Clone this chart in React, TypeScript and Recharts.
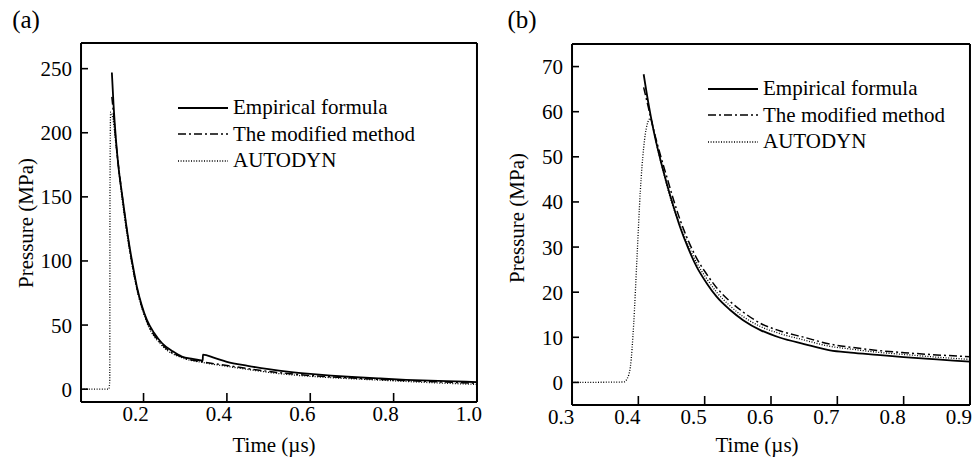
import React from "react";
import { LineChart, Line, XAxis, YAxis, Legend } from "recharts";

const FONT = '"Times New Roman", "Liberation Serif", Tinos, "DejaVu Serif", serif';

// ---- panel (a) ----
const aEmpT = [0.124, 0.128, 0.134, 0.14, 0.148, 0.156, 0.164, 0.174, 0.184, 0.196, 0.208, 0.225, 0.244, 0.27, 0.292, 0.318, 0.342, 0.3425, 0.37, 0.4, 0.45, 0.5, 0.55, 0.6, 0.65, 0.7, 0.768, 0.83, 0.888, 0.95, 1.0];
const aEmpP = [247, 222, 194, 173, 153, 134, 116, 97, 80, 65, 54, 44, 36, 29.5, 25.4, 23.6, 22.3, 26.9, 24.4, 21.3, 18.2, 15.6, 13.5, 11.9, 10.6, 9.5, 8.3, 7.3, 6.6, 6, 5.5];

const aModT = [0.124, 0.128, 0.134, 0.148, 0.164, 0.184, 0.208, 0.244, 0.292, 0.342, 0.4, 0.45, 0.528, 0.6, 0.7, 0.8, 0.9, 1.0];
const aModP = [228, 215, 192, 153, 115, 79, 53, 35, 25, 21.3, 18.5, 16, 12.8, 10.6, 8.7, 7.1, 5.8, 4.6];

const aAutT = [0.05, 0.117, 0.119, 0.1195, 0.121, 0.126, 0.134, 0.148, 0.164, 0.184, 0.208, 0.244, 0.292, 0.342, 0.4, 0.45, 0.528, 0.6, 0.7, 0.768, 0.83, 0.888, 0.95, 1.0];
const aAutP = [0, 0, 8, 150, 216, 212, 190, 150, 113, 78, 52, 34, 24.5, 20.8, 17.8, 15.4, 12, 10, 8.1, 7, 6, 5.1, 4.3, 3.7];

// ---- panel (b) ----
const bEmpT = [0.408, 0.415, 0.423, 0.433, 0.443, 0.453, 0.463, 0.475, 0.488, 0.503, 0.518, 0.538, 0.558, 0.584, 0.614, 0.65, 0.689, 0.72, 0.76, 0.8, 0.85, 0.9];
const bEmpP = [68.3, 62, 55.8, 49.5, 44, 39, 34.4, 29.8, 25.6, 22, 19, 16.1, 13.8, 11.6, 9.9, 8.5, 7.1, 6.6, 6.1, 5.6, 5.1, 4.6];

const bModT = [0.408, 0.415, 0.423, 0.433, 0.443, 0.453, 0.463, 0.475, 0.488, 0.503, 0.518, 0.538, 0.558, 0.584, 0.614, 0.65, 0.689, 0.72, 0.76, 0.8, 0.85, 0.9];
const bModP = [65.4, 61, 56, 50.5, 45.5, 40.5, 36, 31.5, 27.5, 24, 21, 18, 15.6, 13.1, 11.4, 10, 8.5, 7.8, 7.1, 6.6, 6.1, 5.7];

const bAutT = [0.3, 0.378, 0.383, 0.388, 0.393, 0.398, 0.403, 0.408, 0.413, 0.418, 0.423, 0.428, 0.438, 0.45, 0.463, 0.475, 0.488, 0.503, 0.518, 0.538, 0.558, 0.584, 0.614, 0.65, 0.689, 0.72, 0.76, 0.8, 0.85, 0.9];
const bAutP = [0, 0.1, 0.8, 3.5, 13, 27.8, 42.5, 52, 57, 58.5, 56, 52.5, 46.5, 40, 34.8, 30.5, 26.5, 23, 20, 17, 14.6, 12.4, 10.8, 9.4, 8, 7.4, 6.7, 6.2, 5.6, 5.1];

// tick positions
const aXMajor = [0.2, 0.4, 0.6, 0.8, 1.0];
const aXMinor = [0.1, 0.3, 0.5, 0.7, 0.9];
const aYMajor = [0, 50, 100, 150, 200, 250];
const aYMinor = [10, 20, 30, 40, 60, 70, 80, 90, 110, 120, 130, 140, 160, 170, 180, 190, 210, 220, 230, 240, 260];

const bXMajor = [0.3, 0.4, 0.5, 0.6, 0.7, 0.8, 0.9];
const bXMinor = [0.35, 0.45, 0.55, 0.65, 0.75, 0.85];
const bYMajor = [0, 10, 20, 30, 40, 50, 60, 70];
const bYMinor = [5, 15, 25, 35, 45, 55, 65];

const SERIES = [
  { name: "Empirical formula", dash: undefined as string | undefined, width: 1.8 },
  { name: "The modified method", dash: "8 3 2 3", width: 1.5 },
  { name: "AUTODYN", dash: "1 1.6", width: 1.3 },
];

type Pt = { t: number; p: number };
const zip = (t: number[], p: number[]): Pt[] => t.map((x, i) => ({ t: x, p: p[i] }));

const frame = { stroke: "#000", strokeWidth: 2 };
const tl = { stroke: "#000", strokeWidth: 1.6 };
const THIN = 0.01; // axes need a non-zero size to render

function LegendBox() {
  return (
    <div style={{ fontFamily: FONT, fontSize: 21, color: "#000" }}>
      {SERIES.map((s) => (
        <div key={s.name} style={{ display: "flex", alignItems: "center", height: 26.5, whiteSpace: "nowrap" }}>
          <svg width={50} height={10} style={{ marginRight: 5 }}>
            <line x1={0} x2={50} y1={5} y2={5} stroke="#000" strokeWidth={s.width} strokeDasharray={s.dash} />
          </svg>
          <span>{s.name}</span>
        </div>
      ))}
    </div>
  );
}

type PanelProps = {
  left: number;
  width: number;
  margin: { top: number; left: number; right: number; bottom: number };
  xDomain: [number, number];
  yDomain: [number, number];
  xMajor: number[];
  xMinor: number[];
  yMajor: number[];
  yMinor: number[];
  series: Pt[][];
  legend: { left: number; top: number };
  labelDx: number;
};

function Panel(p: PanelProps) {
  const xTick = (props: any) => (
    <text x={props.x + p.labelDx} y={props.y} dy="0.71em" textAnchor="middle" fontFamily={FONT} fontSize={21} fill="#000">
      {Number(props.payload.value).toFixed(1)}
    </text>
  );
  const yTick = (props: any) => (
    <text x={props.x} y={props.y} dy="0.355em" textAnchor="end" fontFamily={FONT} fontSize={21} fill="#000">
      {props.payload.value}
    </text>
  );
  const common = { type: "number" as const, allowDataOverflow: true, interval: 0 as const };
  return (
    <div style={{ position: "absolute", left: p.left, top: 0 }}>
      <LineChart width={p.width} height={460} margin={p.margin}>
        <XAxis xAxisId="b" dataKey="t" {...common} domain={p.xDomain} ticks={p.xMajor} height={THIN} tickSize={-9} tickMargin={13} axisLine={frame} tickLine={tl} tick={xTick} />
        <XAxis xAxisId="bm" {...common} domain={p.xDomain} ticks={p.xMinor} height={THIN} tickSize={-5} axisLine={false} tickLine={tl} tick={false} />
        <XAxis xAxisId="t" orientation="top" {...common} domain={p.xDomain} ticks={p.xMajor} height={THIN} tickSize={-9} axisLine={frame} tickLine={tl} tick={false} />
        <XAxis xAxisId="tm" orientation="top" {...common} domain={p.xDomain} ticks={p.xMinor} height={THIN} tickSize={-5} axisLine={false} tickLine={tl} tick={false} />
        <YAxis yAxisId="l" dataKey="p" {...common} domain={p.yDomain} ticks={p.yMajor} width={THIN} tickSize={-7} tickMargin={16} axisLine={frame} tickLine={tl} tick={yTick} />
        <YAxis yAxisId="lm" {...common} domain={p.yDomain} ticks={p.yMinor} width={THIN} tickSize={-4} axisLine={false} tickLine={tl} tick={false} />
        <YAxis yAxisId="r" orientation="right" {...common} domain={p.yDomain} ticks={p.yMajor} width={THIN} tickSize={-7} axisLine={frame} tickLine={tl} tick={false} />
        <YAxis yAxisId="rm" orientation="right" {...common} domain={p.yDomain} ticks={p.yMinor} width={THIN} tickSize={-4} axisLine={false} tickLine={tl} tick={false} />
        {SERIES.map((s, i) => (
          <Line
            key={s.name}
            name={s.name}
            xAxisId="b"
            yAxisId="l"
            data={p.series[i]}
            dataKey="p"
            type="monotone"
            stroke="#000"
            strokeWidth={s.width}
            strokeDasharray={s.dash}
            dot={false}
            activeDot={false}
            isAnimationActive={false}
          />
        ))}
        <Legend
          layout="horizontal"
          verticalAlign="middle"
          align="center"
          content={() => <LegendBox />}
          wrapperStyle={{ left: p.legend.left, top: p.legend.top, width: "auto" }}
        />
      </LineChart>
    </div>
  );
}

const abs = (x: number, y: number, extra: React.CSSProperties = {}): React.CSSProperties => ({
  position: "absolute",
  left: x,
  top: y,
  transform: "translate(-50%, -50%)",
  whiteSpace: "nowrap",
  fontFamily: FONT,
  fontSize: 21,
  color: "#000",
  ...extra,
});

export default function App() {
  return (
    <div style={{ position: "absolute", left: 0, top: 0, width: 974, height: 460, background: "#fff", overflow: "hidden" }}>
      <Panel
        left={0}
        width={490}
        margin={{ top: 43, left: 81, right: 13, bottom: 58 }}
        xDomain={[0.05, 1.0]}
        yDomain={[-10, 270]}
        xMajor={aXMajor}
        xMinor={aXMinor}
        yMajor={aYMajor}
        yMinor={aYMinor}
        series={[zip(aEmpT, aEmpP), zip(aModT, aModP), zip(aAutT, aAutP)]}
        legend={{ left: 178, top: 94.5 }}
        labelDx={-8}
      />
      <Panel
        left={490}
        width={484}
        margin={{ top: 44, left: 82, right: 4, bottom: 55 }}
        xDomain={[0.3, 0.9]}
        yDomain={[-5, 75]}
        xMajor={bXMajor}
        xMinor={bXMinor}
        yMajor={bYMajor}
        yMinor={bYMinor}
        series={[zip(bEmpT, bEmpP), zip(bModT, bModP), zip(bAutT, bAutP)]}
        legend={{ left: 218, top: 75.5 }}
        labelDx={-11}
      />
      <div style={abs(26, 20, { fontSize: 25 })}>(a)</div>
      <div style={abs(522, 20, { fontSize: 25 })}>(b)</div>
      <div style={abs(26, 223, { transform: "translate(-50%, -50%) rotate(-90deg)" })}>Pressure (MPa)</div>
      <div style={abs(517, 218, { transform: "translate(-50%, -50%) rotate(-90deg)" })}>Pressure (MPa)</div>
      <div style={abs(274, 445)}>Time (µs)</div>
      <div style={abs(757, 445)}>Time (µs)</div>
    </div>
  );
}
